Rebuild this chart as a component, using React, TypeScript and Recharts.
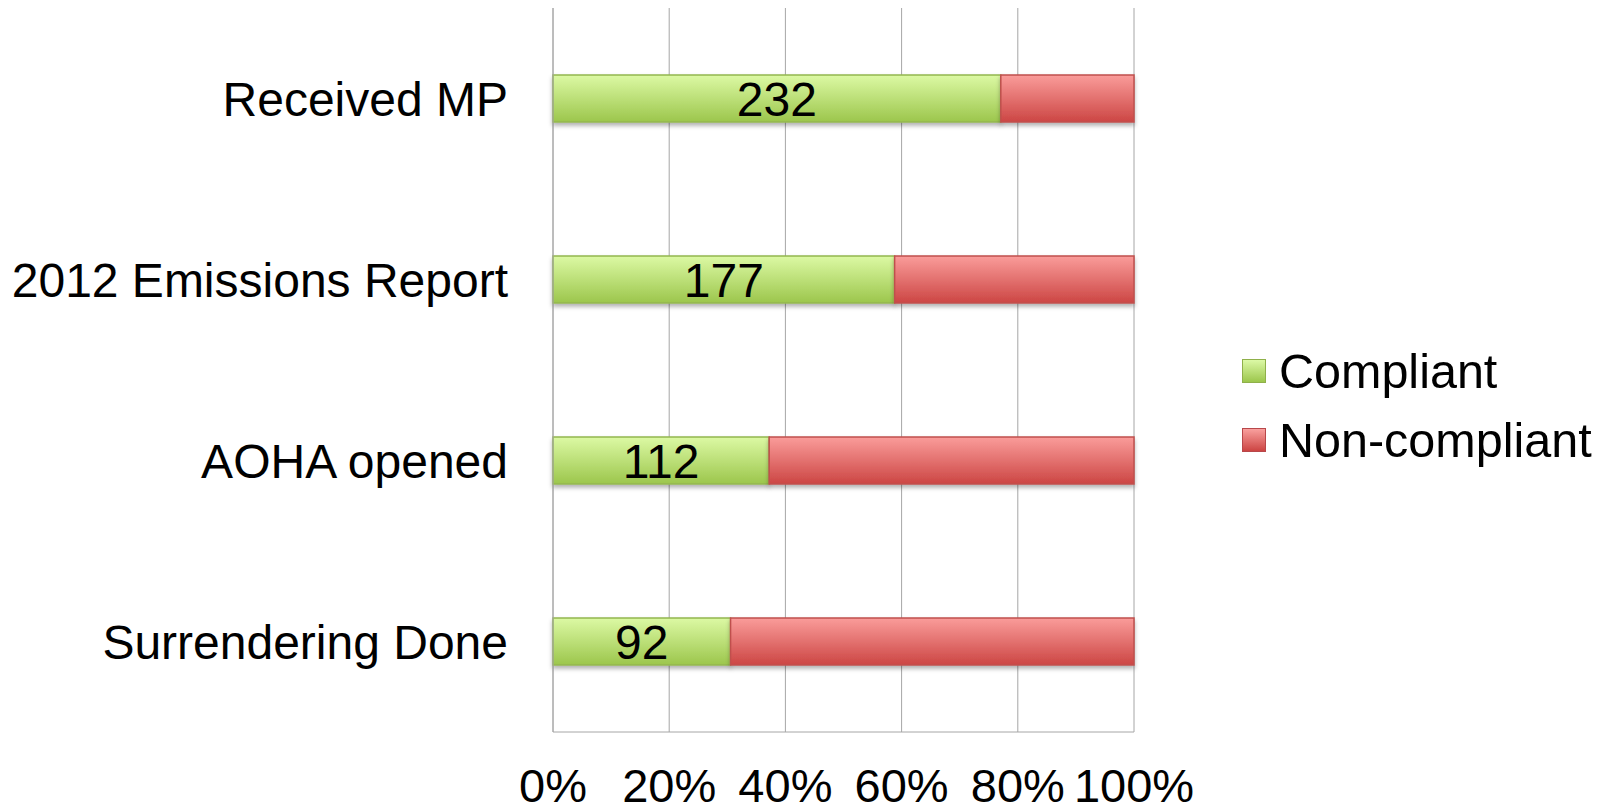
import { BarChart, Bar, XAxis, YAxis, CartesianGrid, Legend, LabelList } from 'recharts'

const categories = ['Received MP', '2012 Emissions Report', 'AOHA opened', 'Surrendering Done']
const compliant = [232, 177, 112, 92]
const nonCompliant = [69, 124, 189, 209]
const xTicks = [0, 0.2, 0.4, 0.6, 0.8, 1]

const data = categories.map((name, i) => ({
  name,
  compliant: compliant[i],
  nonCompliant: nonCompliant[i],
}))

const FONT = '"Liberation Sans", Arial, sans-serif'

const legendItems = [
  { label: 'Compliant', bg: 'linear-gradient(#dcf9a6, #9cc64c)', border: '#8fb04a' },
  { label: 'Non-compliant', bg: 'linear-gradient(#f9a09e, #cc4442)', border: '#b8474a' },
]

function renderLegend() {
  return (
    <div style={{ fontFamily: FONT, fontSize: 48.5, color: '#000' }}>
      {legendItems.map((it) => (
        <div key={it.label} style={{ display: 'flex', alignItems: 'center', height: 69 }}>
          <span
            style={{
              display: 'inline-block',
              width: 22,
              height: 22,
              background: it.bg,
              border: `1px solid ${it.border}`,
              marginRight: 13,
            }}
          />
          <span>{it.label}</span>
        </div>
      ))}
    </div>
  )
}

export default function App() {
  return (
    <div style={{ width: 1612, height: 810, background: '#fff' }}>
      <style>{'body{margin:0}'}</style>
      <BarChart
        width={1612}
        height={810}
        data={data}
        layout="vertical"
        stackOffset="expand"
        barSize={47}
        margin={{ top: 8, right: 478, left: 0, bottom: 0 }}
      >
        <defs>
          <linearGradient id="gGreen" x1="0" y1="0" x2="0" y2="1">
            <stop offset="0%" stopColor="#dcf9a4" />
            <stop offset="100%" stopColor="#9cc64c" />
          </linearGradient>
          <linearGradient id="gRed" x1="0" y1="0" x2="0" y2="1">
            <stop offset="0%" stopColor="#fa9c9a" />
            <stop offset="100%" stopColor="#cc4644" />
          </linearGradient>
          <filter id="shadow" x="-5%" y="-20%" width="110%" height="160%">
            <feDropShadow dx="0" dy="3" stdDeviation="2" floodColor="#000" floodOpacity="0.3" />
          </filter>
        </defs>
        <CartesianGrid horizontal={false} stroke="#a6a6a6" />
        <XAxis
          type="number"
          domain={[0, 1]}
          ticks={xTicks}
          tickFormatter={(v: number) => `${Math.round(v * 100)}%`}
          tick={{ fontSize: 47, fill: '#000', fontFamily: FONT }}
          tickLine={false}
          tickSize={0}
          tickMargin={37}
          axisLine={{ stroke: '#a6a6a6' }}
          height={78}
        />
        <YAxis
          type="category"
          dataKey="name"
          width={553}
          tick={{ fontSize: 48, fill: '#000', fontFamily: FONT }}
          tickLine={false}
          tickSize={6}
          tickMargin={39}
          axisLine={{ stroke: '#a6a6a6' }}
        />
        <Legend
          verticalAlign="middle"
          align="center"
          layout="horizontal"
          content={renderLegend}
          wrapperStyle={{ left: 1242, top: 336, width: 'auto' }}
        />
        <Bar
          dataKey="compliant"
          name="Compliant"
          stackId="a"
          fill="url(#gGreen)"
          stroke="#94b650"
          strokeWidth={1.5}
          filter="url(#shadow)"
          isAnimationActive={false}
        >
          <LabelList
            dataKey="compliant"
            position="center"
            fill="#000"
            fontSize={48}
            fontFamily={FONT}
          />
        </Bar>
        <Bar
          dataKey="nonCompliant"
          name="Non-compliant"
          stackId="a"
          fill="url(#gRed)"
          stroke="#c0504d"
          strokeWidth={1.5}
          filter="url(#shadow)"
          isAnimationActive={false}
        />
      </BarChart>
    </div>
  )
}
